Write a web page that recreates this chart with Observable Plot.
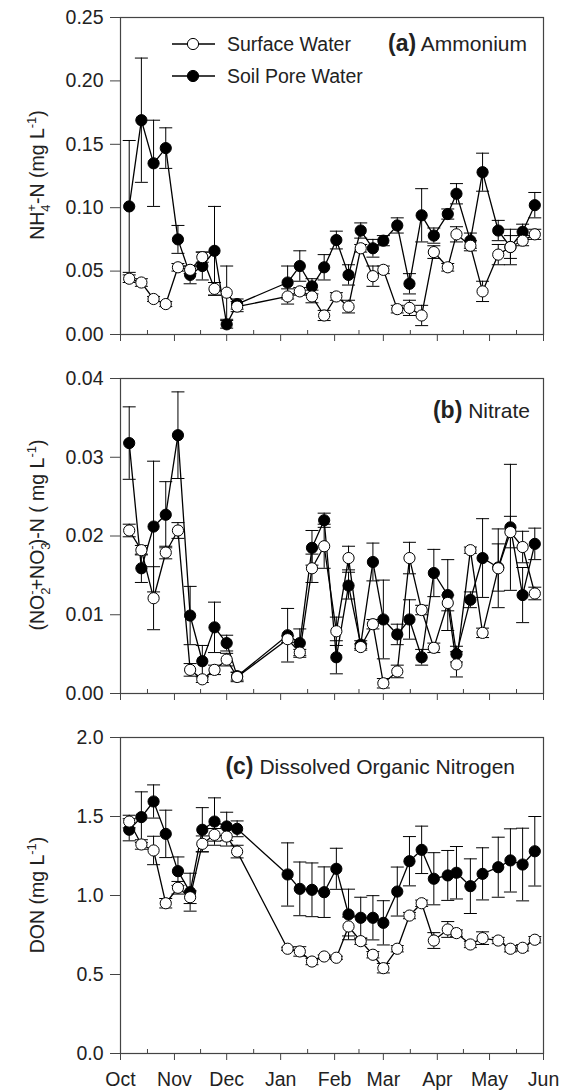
<!DOCTYPE html>
<html><head><meta charset="utf-8">
<script src="https://cdn.jsdelivr.net/npm/d3@7"></script>
<script src="https://cdn.jsdelivr.net/npm/@observablehq/plot@0.6"></script>
<style>
body{margin:0;background:#fff;}
#chart{width:564px;}
#chart svg{display:block;}
</style></head><body><div id="chart"></div>
<script>
// ---- data ----
const dates = ["2010-10-06","2010-10-13","2010-10-20","2010-10-27","2010-11-03","2010-11-10","2010-11-17","2010-11-24","2010-12-01","2010-12-07",
  "2011-01-05","2011-01-12","2011-01-19","2011-01-26","2011-02-02","2011-02-09","2011-02-16","2011-02-23","2011-03-01","2011-03-09",
  "2011-03-16","2011-03-23","2011-03-30","2011-04-07","2011-04-12","2011-04-20","2011-04-27","2011-05-06","2011-05-13","2011-05-20","2011-05-27"];

const nh4Soil    = [0.101,0.169,0.135,0.147,0.075,0.047,0.054,0.066,0.008,0.024,0.041,0.054,0.038,0.053,0.0745,0.047,0.082,0.068,0.074,0.086,0.040,0.094,0.078,0.095,0.111,0.074,0.128,0.082,0.069,0.081,0.102];
const nh4SoilErr = [0.052,0.049,0.034,0.016,0.011,0.007,0.011,0.035,0.003,0.004,0.013,0.012,0.006,0.010,0.007,0.008,0.006,0.007,0.004,0.006,0.008,0.021,0.006,0.004,0.008,0.006,0.015,0.008,0.009,0.006,0.010];
const nh4Surf    = [0.044,0.041,0.028,0.024,0.053,0.051,0.061,0.036,0.033,0.022,0.030,0.034,0.030,0.015,0.030,0.022,0.068,0.046,0.051,0.020,0.021,0.015,0.065,0.053,0.079,0.070,0.034,0.063,0.069,0.074,0.079];
const nh4SurfErr = [0.003,0.003,0.002,0.002,0.003,0.003,0.004,0.005,0.021,0.004,0.006,0.003,0.005,0.004,0.003,0.005,0.003,0.008,0.003,0.003,0.006,0.008,0.005,0.003,0.006,0.004,0.008,0.008,0.014,0.004,0.004];

const no3Soil    = [0.0318,0.0159,0.0212,0.0227,0.0328,0.0099,0.0041,0.0084,0.0064,0.0022,0.0074,0.0064,0.0185,0.0220,0.0046,0.0137,0.0062,0.0167,0.0094,0.0075,0.0094,0.0046,0.0153,0.0125,0.0050,0.0119,0.0172,0.0160,0.0211,0.0125,0.0190];
const no3SoilErr = [0.0046,0.0018,0.0083,0.0042,0.0055,0.0037,0.0020,0.0032,0.0010,0.0005,0.0034,0.0018,0.0022,0.0009,0.0021,0.0017,0.0005,0.0024,0.0050,0.0013,0.0025,0.0010,0.0030,0.0045,0.0010,0.0010,0.0050,0.0030,0.0080,0.0035,0.0020];
const no3Surf    = [0.0207,0.0182,0.0121,0.0179,0.0207,0.0030,0.0018,0.0030,0.0043,0.0021,0.0069,0.0052,0.0159,0.0187,0.0079,0.0172,0.0059,0.0088,0.0013,0.0028,0.0172,0.0106,0.0058,0.0115,0.0037,0.0182,0.0077,0.0159,0.0205,0.0186,0.0127];
const no3SurfErr = [0.0008,0.0006,0.0040,0.0008,0.0010,0.0008,0.0004,0.0006,0.0008,0.0006,0.0004,0.0004,0.0018,0.0028,0.0018,0.0015,0.0004,0.0006,0.0006,0.0008,0.0020,0.0006,0.0006,0.0010,0.0016,0.0004,0.0006,0.0050,0.0020,0.0020,0.0008];

const donSoil    = [1.416,1.496,1.595,1.390,1.154,1.021,1.416,1.468,1.437,1.422,1.133,1.042,1.036,1.021,1.169,0.880,0.859,0.859,0.827,1.025,1.217,1.289,1.106,1.127,1.144,1.059,1.137,1.179,1.222,1.196,1.280];
const donSoilErr = [0.07,0.16,0.105,0.15,0.09,0.12,0.14,0.15,0.09,0.05,0.20,0.17,0.17,0.16,0.13,0.16,0.13,0.14,0.14,0.155,0.156,0.15,0.165,0.158,0.166,0.173,0.165,0.19,0.20,0.23,0.22];
const donSurf    = [1.468,1.323,1.285,0.951,1.049,0.989,1.327,1.384,1.373,1.278,0.663,0.646,0.582,0.614,0.606,0.804,0.711,0.625,0.540,0.663,0.873,0.951,0.715,0.785,0.762,0.690,0.730,0.715,0.663,0.669,0.720];
const donSurfErr = [0.04,0.03,0.09,0.03,0.04,0.04,0.05,0.04,0.06,0.04,0.01,0.03,0.02,0.01,0.01,0.06,0.02,0.02,0.03,0.02,0.02,0.02,0.05,0.05,0.02,0.02,0.04,0.02,0.02,0.02,0.02];

const monthStarts = ["2010-10-01","2010-11-01","2010-12-01","2011-01-01","2011-02-01","2011-03-01","2011-04-01","2011-05-01","2011-06-01"];
const monthLabels = ["Oct","Nov","Dec","Jan","Feb","Mar","Apr","May","Jun"];
const ticksA = [0, 0.05, 0.10, 0.15, 0.20, 0.25];
const ticksB = [0, 0.01, 0.02, 0.03, 0.04];
const ticksC = [0, 0.5, 1.0, 1.5, 2.0];
const legendLabels = ["Surface Water", "Soil Pore Water"];

// ---- helpers ----
const FONT = "'Liberation Sans', Arial, Helvetica, sans-serif";
const parse = d3.utcParse("%Y-%m-%d");
const dateObjs = dates.map(parse);
const monthDates = monthStarts.map(parse);
const minorDates = d3.pairs(monthDates).map(([a, b]) => new Date((+a + +b) / 2));
const capSymbol = { draw(ctx, size) { const r = Math.sqrt(size / Math.PI); ctx.moveTo(-r, 0); ctx.lineTo(r, 0); } };
const AX = "#444";

function rows(v, e) { return dateObjs.map((d, i) => ({date: d, v: v[i], lo: v[i] - e[i], hi: v[i] + e[i]})); }

function seriesMarks(data, fill) {
  return [
    Plot.ruleX(data, {x: "date", y1: "lo", y2: "hi", stroke: "black", strokeWidth: 1, clip: true}),
    Plot.dot(data, {x: "date", y: "hi", symbol: capSymbol, r: 6.5, stroke: "black", strokeWidth: 1, clip: true}),
    Plot.dot(data, {x: "date", y: "lo", symbol: capSymbol, r: 6.5, stroke: "black", strokeWidth: 1, clip: true}),
    Plot.line(data, {x: "date", y: "v", stroke: "black", strokeWidth: 1.3}),
    Plot.dot(data, {x: "date", y: "v", r: 5.6, fill, stroke: "black", strokeWidth: 1})
  ];
}

function panel({height, mt, mb, domain, ticks, fmt, soil, surf, labels}) {
  return Plot.plot({
    width: 564, height, marginLeft: 120, marginRight: 21, marginTop: mt, marginBottom: mb,
    style: {fontFamily: FONT, fontSize: "19.5px", color: "#222", background: "white"},
    x: {type: "utc", domain: [monthDates[0], monthDates[monthDates.length - 1]]},
    y: {domain},
    marks: [
      Plot.frame({stroke: AX, strokeWidth: 1.2}),
      Plot.axisY({ticks, tickSize: 10, tickPadding: 7, tickFormat: d3.format(fmt), label: null, stroke: AX, fontSize: 19.5}),
      Plot.axisX({ticks: monthDates, tickSize: 7, tickPadding: 12, label: null, stroke: AX, fontSize: 19.5,
        tickFormat: labels ? (d => monthLabels[monthDates.findIndex(m => +m === +d)]) : (() => "")}),
      Plot.axisX({ticks: minorDates, tickSize: 4, dy: -4, label: null, stroke: AX, tickFormat: () => ""}),
      ...seriesMarks(soil, "black"),
      ...seriesMarks(surf, "white")
    ]
  });
}

function richText(sel, parts, size, small) {
  let cur = 0;
  for (const p of parts) {
    const ts = sel.append("tspan").text(p.t);
    let target = 0, fs = size;
    if (p.k === "sub") { target = 6; fs = small; }
    if (p.k === "sup" || p.k === "supb") { target = -8; fs = small; }
    ts.attr("dy", target - cur).style("font-size", fs + "px");
    if (p.k === "supb") ts.attr("dx", -p.back);
    cur = target;
  }
}

function yTitle(svg, cy, parts) {
  const t = d3.select(svg).append("text")
    .attr("transform", `translate(44,${cy}) rotate(-90)`)
    .attr("text-anchor", "middle").attr("fill", "#222")
    .style("font-family", FONT);
  richText(t, parts, 19.5, 13);
}

function panelTitle(svg, x, y, tag, name) {
  const t = d3.select(svg).append("text").attr("x", x).attr("y", y)
    .attr("text-anchor", "end").attr("fill", "#222").style("font-family", FONT);
  t.append("tspan").text(tag).style("font-weight", "bold").style("font-size", "23px");
  t.append("tspan").text(" " + name).style("font-size", "21px");
}

const chart = document.getElementById("chart");

// Panel (a)
const svgA = panel({height: 356, mt: 17, mb: 22, domain: [0, 0.25], ticks: ticksA, fmt: ".2f",
  soil: rows(nh4Soil, nh4SoilErr), surf: rows(nh4Surf, nh4SurfErr), labels: false});
chart.append(svgA);
yTitle(svgA, 175, [{t: "NH"}, {t: "4", k: "sub"}, {t: "+", k: "supb", back: 7.2}, {t: "-N (mg L"}, {t: "-1", k: "sup"}, {t: ")"}]);
panelTitle(svgA, 527, 51, "(a)", "Ammonium");
{
  const g = d3.select(svgA).append("g");
  [[44, "white"], [76, "black"]].forEach(([y, fill], i) => {
    g.append("line").attr("x1", 172).attr("x2", 215).attr("y1", y).attr("y2", y).attr("stroke", "black").attr("stroke-width", 1.3);
    g.append("circle").attr("cx", 193).attr("cy", y).attr("r", 5.6).attr("fill", fill).attr("stroke", "black");
    g.append("text").attr("x", 227).attr("y", y).attr("dy", "0.35em").attr("fill", "#222")
      .attr("text-anchor", "start")
      .style("font-family", FONT).style("font-size", "19.5px").text(legendLabels[i]);
  });
}

// Panel (b)
const svgB = panel({height: 359, mt: 22, mb: 22, domain: [0, 0.04], ticks: ticksB, fmt: ".2f",
  soil: rows(no3Soil, no3SoilErr), surf: rows(no3Surf, no3SurfErr), labels: false});
chart.append(svgB);
yTitle(svgB, 179, [{t: "(NO"}, {t: "2", k: "sub"}, {t: "-", k: "supb", back: 7.2}, {t: "+NO"}, {t: "3", k: "sub"}, {t: "-", k: "supb", back: 7.2}, {t: ")-N ( mg L"}, {t: "-1", k: "sup"}, {t: ")"}]);
panelTitle(svgB, 530, 62, "(b)", "Nitrate");

// Panel (c)
const svgC = panel({height: 375, mt: 22, mb: 37, domain: [0, 2.0], ticks: ticksC, fmt: ".1f",
  soil: rows(donSoil, donSoilErr), surf: rows(donSurf, donSurfErr), labels: true});
chart.append(svgC);
yTitle(svgC, 180, [{t: "DON (mg L"}, {t: "-1", k: "sup"}, {t: ")"}]);
panelTitle(svgC, 515, 59, "(c)", "Dissolved Organic Nitrogen");
</script>
</body></html>
